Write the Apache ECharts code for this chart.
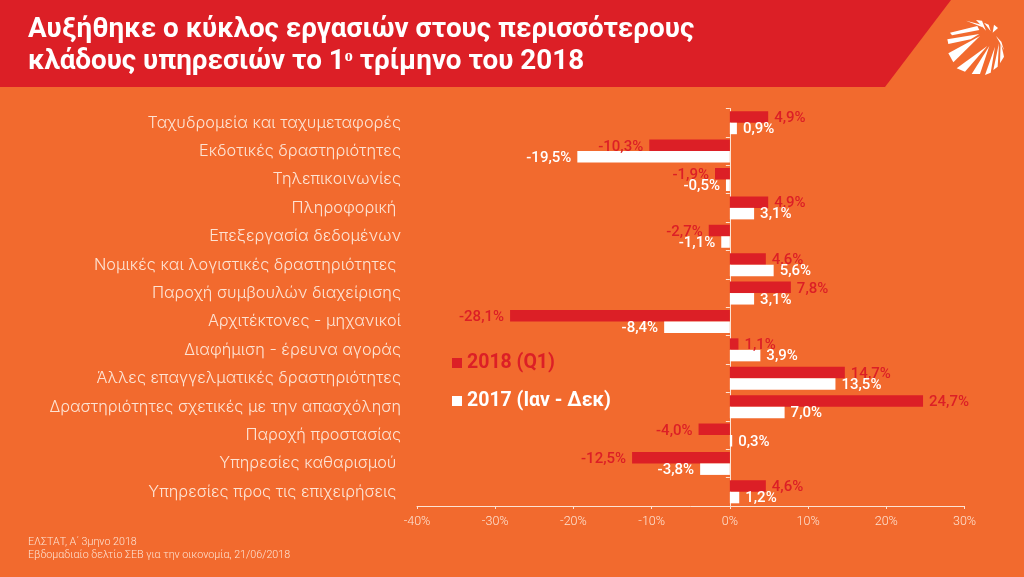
<!DOCTYPE html>
<html>
<head>
<meta charset="utf-8">
<script src="https://cdn.jsdelivr.net/npm/echarts@6/dist/echarts.min.js"></script>
<style>
html, body { margin: 0; padding: 0; background: #f26a2e; }
#main { width: 1024px; height: 577px; }
</style>
</head>
<body>
<div id="main"></div>
<script>
const categories = [
    'Ταχυδρομεία και ταχυμεταφορές',
    'Εκδοτικές δραστηριότητες',
    'Τηλεπικοινωνίες',
    'Πληροφορική ',
    'Επεξεργασία δεδομένων',
    'Νομικές και λογιστικές δραστηριότητες ',
    'Παροχή συμβουλών διαχείρισης',
    'Αρχιτέκτονες - μηχανικοί',
    'Διαφήμιση - έρευνα αγοράς',
    'Άλλες επαγγελματικές δραστηριότητες',
    'Δραστηριότητες σχετικές με την απασχόληση',
    'Παροχή προστασίας',
    'Υπηρεσίες καθαρισμού ',
    'Υπηρεσίες προς τις επιχειρήσεις '
];
const values2018 = [4.9, -10.3, -1.9, 4.9, -2.7, 4.6, 7.8, -28.1, 1.1, 14.7, 24.7, -4.0, -12.5, 4.6];
const values2017 = [0.9, -19.5, -0.5, 3.1, -1.1, 5.6, 3.1, -8.4, 3.9, 13.5, 7.0, 0.3, -3.8, 1.2];
const name2018 = '2018 (Q1)';
const name2017 = '2017 (Ιαν - Δεκ)';
const titleText = 'Αυξήθηκε ο κύκλος εργασιών στους περισσότερους\nκλάδους υπηρεσιών το 1ᵒ τρίμηνο του 2018';
const sourceText = 'ΕΛΣΤΑΤ, Α΄ 3μηνο 2018\nΕβδομαδιαίο δελτίο ΣΕΒ για την οικονομία, 21/06/2018';

const RED = '#dc1f26';
const WHITE = '#ffffff';
const PALE = '#fde3d3';
const FONT = 'Roboto';

function pct(params) {
    return params.value.toFixed(1).replace('.', ',') + '%';
}

function barSeries(name, data, color, labelDy) {
    return {
        name: name,
        type: 'bar',
        data: data,
        barWidth: 11.5,
        barGap: '0%',
        itemStyle: { color: color },
        label: {
            show: true,
            position: 'outside',
            distance: 6,
            offset: [0, labelDy],
            formatter: pct,
            color: color,
            fontFamily: FONT,
            fontSize: 15,
            fontWeight: 500
        }
    };
}

function legendFor(name, color, top) {
    return {
        data: [name],
        left: 447,
        top: top,
        icon: 'rect',
        itemWidth: 10,
        itemHeight: 10,
        selectedMode: false,
        textStyle: { color: color, fontFamily: FONT, fontSize: 19.5, fontWeight: 'bold' }
    };
}

// logo wedges, in pixels of a 3x crop of the corner
const logoWedges = [
    [[108, 62], [155, 74], [158, 82]],
    [[60, 98], [142, 78], [148, 90], [66, 106]],
    [[52, 118], [148, 102], [122, 118], [55, 132]],
    [[55, 160], [150, 108], [70, 187]],
    [[80, 205], [172, 138], [105, 215]],
    [[125, 222], [178, 138], [150, 222]],
    [[165, 225], [195, 140], [182, 218]],
    [[190, 210], [207, 130], [203, 200]],
    [[210, 190], [212, 125], [222, 170]],
    [[222, 150], [198, 108], [214, 125]],
    [[138, 60], [168, 92], [156, 62]],
    [[162, 68], [182, 94], [176, 74]],
    [[192, 74], [188, 98], [204, 84]]
];
const logoShapes = logoWedges.map(function (pts) {
    return {
        type: 'polygon',
        silent: true,
        shape: { points: pts.map(function (p) { return [930 + p[0] / 3, p[1] / 3]; }) },
        style: { fill: WHITE }
    };
});

const chart = echarts.init(document.getElementById('main'));
chart.setOption({
    animation: false,
    backgroundColor: '#f26a2e',
    title: [
        {
            text: titleText,
            left: 23, top: 9,
            textStyle: { color: WHITE, fontFamily: FONT, fontSize: 27.8, fontWeight: 'bold', lineHeight: 32 }
        },
        {
            text: sourceText,
            left: 23, top: 531,
            textStyle: { color: PALE, fontFamily: FONT, fontSize: 10.7, fontWeight: 300, lineHeight: 13 }
        }
    ],
    legend: [legendFor(name2018, RED, 348), legendFor(name2017, WHITE, 386)],
    grid: { left: 417, right: 59.5, top: 108.5, bottom: 71, containLabel: false },
    xAxis: {
        type: 'value',
        min: -40,
        max: 30,
        interval: 10,
        splitLine: { show: false },
        axisLine: { show: true, lineStyle: { color: PALE, width: 1 } },
        axisTick: { show: true, inside: false, length: 3, lineStyle: { color: PALE } },
        axisLabel: {
            margin: 9,
            formatter: '{value}%',
            color: PALE,
            fontFamily: FONT,
            fontSize: 12.5,
            fontWeight: 300
        }
    },
    yAxis: [
        {
            // labels on the far left
            type: 'category',
            inverse: true,
            data: categories,
            position: 'left',
            axisLine: { show: false, onZero: false },
            axisTick: { show: false },
            axisLabel: {
                margin: 16,
                color: PALE,
                fontFamily: 'Inter',
                fontSize: 16.3,
                fontWeight: 300,
                padding: [3, 0, 0, 0]
            }
        },
        {
            // line and ticks at zero
            type: 'category',
            inverse: true,
            data: categories,
            position: 'left',
            axisLine: { show: true, onZero: true, lineStyle: { color: PALE, width: 1 } },
            axisTick: { show: true, length: 4, lineStyle: { color: PALE } },
            axisLabel: { show: false }
        }
    ],
    graphic: [
        {
            type: 'polygon',
            silent: true,
            z: -1,
            shape: { points: [[0, 0], [951, 0], [885, 87], [0, 87]] },
            style: { fill: RED }
        }
    ].concat(logoShapes),
    series: [
        barSeries(name2018, values2018, RED, 1.5),
        barSeries(name2017, values2017, WHITE, 1)
    ]
});
</script>
</body>
</html>
